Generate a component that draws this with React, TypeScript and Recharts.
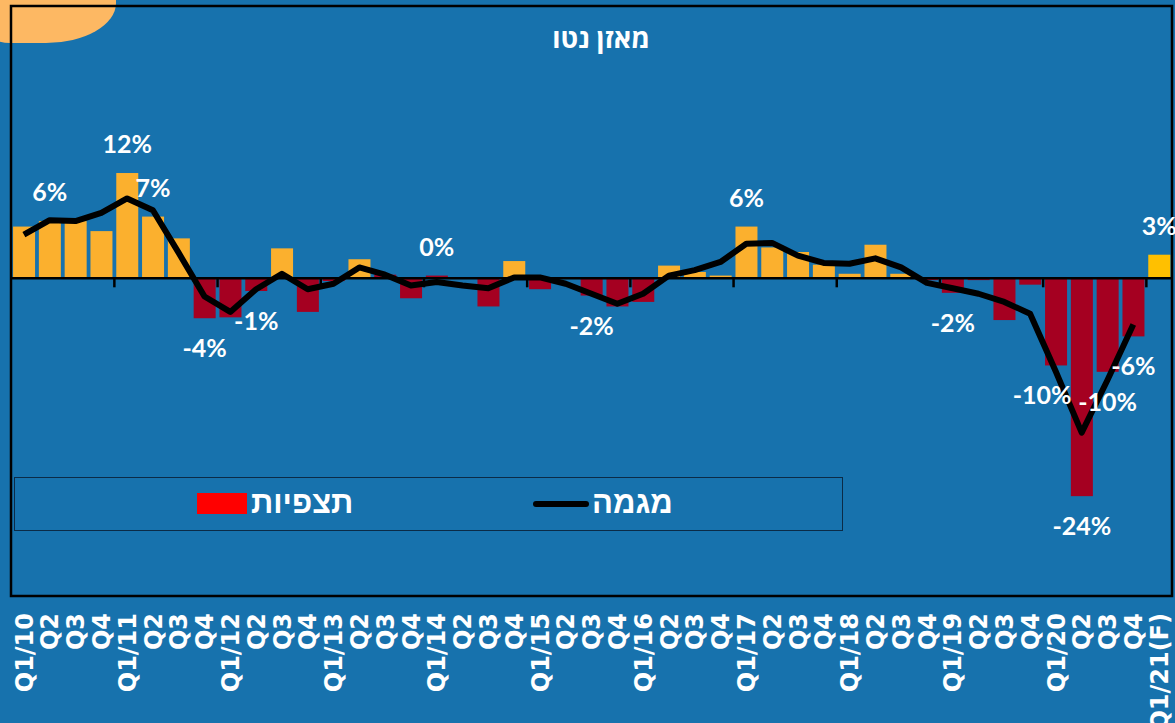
import React from 'react';
import {
  ComposedChart,
  Bar,
  Line,
  XAxis,
  YAxis,
  ReferenceLine,
  ReferenceArea,
  LabelList,
  Legend,
} from 'recharts';

// ---------- data ----------
const categories = [
  'Q1/10', 'Q2', 'Q3', 'Q4',
  'Q1/11', 'Q2', 'Q3', 'Q4',
  'Q1/12', 'Q2', 'Q3', 'Q4',
  'Q1/13', 'Q2', 'Q3', 'Q4',
  'Q1/14', 'Q2', 'Q3', 'Q4',
  'Q1/15', 'Q2', 'Q3', 'Q4',
  'Q1/16', 'Q2', 'Q3', 'Q4',
  'Q1/17', 'Q2', 'Q3', 'Q4',
  'Q1/18', 'Q2', 'Q3', 'Q4',
  'Q1/19', 'Q2', 'Q3', 'Q4',
  'Q1/20', 'Q2', 'Q3', 'Q4',
  'Q1/21(F)',
];

// net balance (bars), %
const balance = [
  5.7, 6.3, 6.3, 5.2,
  11.6, 6.8, 4.4, -4.4,
  -4.3, -1.4, 3.3, -3.7,
  -0.3, 2.1, 0.4, -2.2,
  0.3, 0, -3.1, 1.9,
  -1.2, 0, -1.9, -3.1,
  -2.6, 1.4, 0.7, 0.3,
  5.7, 3.4, 2.9, 1.5,
  0.5, 3.7, 0.5, -0.2,
  -1.6, -0.2, -4.6, -0.7,
  -9.6, -24.0, -10.3, -6.4,
  2.6,
];

// trend (line), %
const trend: (number | null)[] = [
  4.8, 6.4, 6.3, 7.2,
  8.8, 7.5, 2.8, -2.0,
  -3.7, -1.2, 0.5, -1.2,
  -0.6, 1.2, 0.4, -0.8,
  -0.4, -0.8, -1.1, 0.1,
  0.1, -0.6, -1.7, -2.8,
  -1.7, 0.3, 0.9, 1.8,
  3.8, 3.9, 2.5, 1.7,
  1.6, 2.2, 1.2, -0.5,
  -1.1, -1.7, -2.6, -3.9,
  -10.3, -17.0, -11.2, -5.1,
  null,
];

const valueLabels = [
  '', '6%', '', '',
  '12%', '7%', '', '-4%',
  '', '-1%', '', '',
  '', '', '', '',
  '0%', '', '', '',
  '', '', '-2%', '',
  '', '', '', '',
  '6%', '', '', '',
  '', '', '', '',
  '-2%', '', '', '',
  '-10%', '-24%', '-10%', '-6%',
  '3%',
];

// observations shown in the dark-red tone although slightly positive
const darkToneIdx = [14, 16];

const title = 'מאזן נטו';
const barName = 'תצפיות';
const lineName = 'מגמה';

// ---------- styling ----------
const BG = '#1772AD';
const ORANGE = '#FBB02E';
const DARKRED = '#A50021';
const FORECAST = '#FFC000';

const W = 1175;
const H = 723;
const MARGIN = { top: 6, right: 3, left: 11, bottom: 7 };
const XAXIS_H = 120;
const PLOT_W = W - MARGIN.left - MARGIN.right;
const BAND = PLOT_W / categories.length;

const data = categories.map((cat, i) => ({
  cat,
  balance: balance[i],
  trend: trend[i],
  lbl: valueLabels[i],
}));

function barColor(i: number) {
  if (categories[i].includes('(F)')) return FORECAST;
  if (darkToneIdx.includes(i)) return DARKRED;
  return balance[i] < 0 ? DARKRED : ORANGE;
}

function BarShape(props: any) {
  const { x, y, width, height, index } = props;
  const top = Math.min(y, y + height);
  const h = Math.abs(height);
  const zeroY = y + height;
  const cx = x + width / 2;
  const showTick = index > 0 && index % 4 === 0;
  return (
    <g>
      {h > 0 && <rect x={x} y={top} width={width} height={h} fill={barColor(index)} />}
      {showTick && (
        <line
          x1={cx - BAND / 2}
          x2={cx - BAND / 2}
          y1={zeroY}
          y2={zeroY + 9}
          stroke="#000"
          strokeWidth={2.5}
        />
      )}
    </g>
  );
}

function ValueLabel(props: any) {
  const { x, y, width, height, index, value } = props;
  if (!value) return null;
  const v = balance[index];
  const h = height || 0;
  const top = Math.min(y, y + h);
  const bottom = Math.max(y, y + h);
  const cy = v >= 0 ? top - 29 : bottom + 30;
  const dx = index === 40 ? -14 : 0;
  return (
    <text
      x={x + width / 2 + dx}
      y={cy}
      dy="0.36em"
      textAnchor="middle"
      fill="#fff"
      fontFamily="Lato, 'Open Sans', sans-serif"
      fontWeight={700}
      fontSize={25}
    >
      {value}
    </text>
  );
}

function XTick(props: any) {
  const { x, y, payload } = props;
  return (
    <text
      transform={`translate(${x},${y}) rotate(-90)`}
      dy="0.36em"
      textAnchor="end"
      fill="#fff"
      fontFamily="'DejaVu Sans', sans-serif"
      fontWeight={700}
      fontSize={24}
    >
      {payload.value}
    </text>
  );
}

function LegendBox() {
  return (
    <div
      style={{
        position: 'relative',
        width: 829,
        height: 54,
        boxSizing: 'border-box',
        border: '1.5px solid #0B2B47',
        fontFamily: "'Liberation Sans', Arial, sans-serif",
        fontWeight: 700,
        color: '#fff',
      }}
    >
      <div style={{ position: 'absolute', left: 182, top: 15, width: 50, height: 21, background: '#FF0000' }} />
      <div
        style={{
          position: 'absolute',
          left: 236,
          top: 6,
          fontSize: 31,
          lineHeight: '38px',
          direction: 'rtl',
          whiteSpace: 'nowrap',
        }}
      >
        {barName}
      </div>
      <div
        style={{
          position: 'absolute',
          left: 518,
          top: 23,
          width: 56,
          height: 6,
          borderRadius: 3,
          background: '#000',
        }}
      />
      <div
        style={{
          position: 'absolute',
          left: 577,
          top: 6,
          fontSize: 31,
          lineHeight: '38px',
          direction: 'rtl',
          whiteSpace: 'nowrap',
        }}
      >
        {lineName}
      </div>
    </div>
  );
}

export default function App() {
  return (
    <div
      style={{
        position: 'absolute',
        left: 0,
        top: 0,
        width: W,
        height: H,
        background: BG,
        overflow: 'hidden',
      }}
    >
      <div
        style={{
          position: 'absolute',
          left: -10,
          top: -30,
          width: 126,
          height: 73,
          background: '#FDB863',
          borderBottomRightRadius: '70px 40px',
          borderBottomLeftRadius: '20px 10px',
        }}
      />
      <div
        style={{
          position: 'absolute',
          left: 553,
          width: 96,
          top: 21,
          textAlign: 'center',
          color: '#fff',
          fontFamily: "'Open Sans', 'DejaVu Sans', sans-serif",
          fontWeight: 700,
          fontSize: 27,
          lineHeight: '34px',
          direction: 'rtl',
          whiteSpace: 'nowrap',
          display: 'flex',
          justifyContent: 'center',
          zIndex: 2,
        }}
      >
        {title}
      </div>
      <ComposedChart width={W} height={H} data={data} margin={MARGIN} barCategoryGap="8%">
        <XAxis
          dataKey="cat"
          interval={0}
          height={XAXIS_H}
          axisLine={false}
          tickLine={false}
          tickSize={0}
          tickMargin={17}
          tick={<XTick />}
        />
        <YAxis
          type="number"
          domain={[-35, 30]}
          width={0}
          tick={false}
          tickLine={false}
          axisLine={false}
          allowDataOverflow
        />
        <ReferenceArea
          y1={-35}
          y2={30}
          fill="none"
          stroke="#000"
          strokeWidth={2.5}
          fillOpacity={0}
          ifOverflow="visible"
        />
        <Bar
          dataKey="balance"
          name={barName}
          shape={<BarShape />}
          isAnimationActive={false}
        >
          <LabelList dataKey="lbl" content={<ValueLabel />} />
        </Bar>
        <ReferenceLine y={0} stroke="#000" strokeWidth={2.5} />
        <Line
          dataKey="trend"
          name={lineName}
          type="linear"
          stroke="#000"
          strokeWidth={6}
          strokeLinejoin="round"
          dot={false}
          activeDot={false}
          connectNulls={false}
          isAnimationActive={false}
        />
        <Legend
          layout="horizontal"
          verticalAlign="middle"
          align="center"
          wrapperStyle={{ left: 14, top: 477, width: 829, height: 54 }}
          content={<LegendBox />}
        />
      </ComposedChart>
    </div>
  );
}
